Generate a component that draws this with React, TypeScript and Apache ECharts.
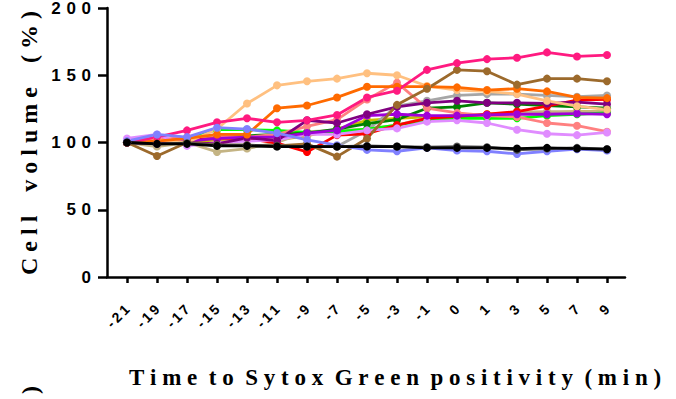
import { useEffect, useRef } from 'react';
import * as echarts from 'echarts';

const categories = ['-21', '-19', '-17', '-15', '-13', '-11', '-9', '-7', '-5', '-3', '-1', '0', '1', '3', '5', '7', '9'];
const yTicks = [0, 50, 100, 150, 200];

const olive = [100, 100, 101, 101, 102, 102, 105, 110, 116.5, 118, 119, 120, 121, 122, 122, 123, 123];
const khaki = [100, 97, 100, 93, 95.5, 100, 108, 109, 110, 113, 118.5, 119, 119.5, 122.5, 123, 123, 123];
const gray = [100, 99, 100, 98, 98, 97, 97, 97, 109, 127, 131, 135, 136, 136, 135, 134, 135];
const lime = [100, 101, 103, 109.5, 109.5, 109, 107.5, 108, 110, 113, 116.5, 118, 118, 118, 120, 121, 122];
const green = [100, 100, 101, 104, 105, 106, 107, 110, 114, 117, 125.5, 126.5, 129.5, 128.5, 127.5, 126.5, 125.5];
const red = [100, 101, 102, 103, 103, 99.5, 93, 105.5, 106.5, 113, 118, 119.5, 121, 123, 127, 131.5, 132];
const salmon = [100, 102, 104, 105, 104, 106, 112, 117, 132, 144.5, 125.5, 122, 120, 119, 114.5, 112.5, 108];
const violet = [103, 106, 97.5, 100, 101, 102, 106, 106, 109, 110.5, 115.5, 116.5, 114.5, 109.5, 106.5, 105.5, 107.5];
const darkViolet = [100, 100, 101, 103, 104, 104, 107, 109, 120, 121, 120, 120, 120.5, 121, 121, 121.5, 121];
const purple = [100, 99, 100, 99, 103.5, 101.5, 116.5, 114.5, 121, 126.5, 129.5, 131, 129.5, 129.5, 129, 130, 128.5];
const peach = [100, 102, 100, 110, 129, 142.5, 145.5, 147.5, 151.5, 150, 142, 139, 138, 136, 131, 127, 124.5];
const orange = [100, 101, 103, 106, 106, 125.5, 127.5, 133.5, 141.5, 141.5, 141.5, 141, 139, 140, 138, 133.5, 133];
const brown = [100, 90, 100, 98, 98, 97.5, 99, 89.5, 103, 128, 140, 154, 153, 143, 147.5, 147.5, 145.5];
const deepPink = [100, 104, 109, 115, 118, 115, 116.5, 120.5, 133.5, 138.5, 154, 159, 162, 163, 167, 164, 165];
const blue = [101, 106, 104, 111, 110, 107, 102, 98, 94.5, 93.5, 96, 94, 93.5, 91.5, 93.5, 95, 94];
const darkGray = [100, 99, 99.5, 98, 98, 97.5, 97, 97, 97.5, 97, 96.5, 97, 96.5, 94.5, 95.5, 96, 95];
const black = [100, 99, 99, 97.5, 97.5, 97, 97, 97, 97, 97, 96, 96, 96, 95.5, 96, 95.5, 95];

const seriesList: { name: string; color: string; data: number[] }[] = [
  { name: 'olive', color: '#C8C000', data: olive },
  { name: 'khaki', color: '#C4B484', data: khaki },
  { name: 'gray', color: '#A6A6A6', data: gray },
  { name: 'lime', color: '#00FF00', data: lime },
  { name: 'green', color: '#008000', data: green },
  { name: 'red', color: '#FF0000', data: red },
  { name: 'salmon', color: '#FF8080', data: salmon },
  { name: 'violet', color: '#E08CFF', data: violet },
  { name: 'darkViolet', color: '#A000D8', data: darkViolet },
  { name: 'purple', color: '#800080', data: purple },
  { name: 'peach', color: '#FFC080', data: peach },
  { name: 'orange', color: '#FF6A00', data: orange },
  { name: 'brown', color: '#9C6A2C', data: brown },
  { name: 'deepPink', color: '#FF1A80', data: deepPink },
  { name: 'blue', color: '#8080FF', data: blue },
  { name: 'darkGray', color: '#555555', data: darkGray },
  { name: 'black', color: '#000000', data: black },
];

const NB = '\u00A0';
function spaced(s: string, gap: string, wordGap: string): string {
  return s
    .split(' ')
    .map((w) => w.split('').join(gap))
    .join(wordGap);
}

export default function App() {
  const ref = useRef<HTMLDivElement>(null);
  useEffect(() => {
    if (!ref.current) return;
    const chart = echarts.init(ref.current, null, { renderer: 'svg' });
    const idx = categories.map((_, i) => i);
    const option: any = {
      animation: false,
      backgroundColor: '#ffffff',
      grid: { left: 107, right: 51, top: 8, bottom: 122, containLabel: false, outerBoundsMode: 'none' },
      xAxis: {
        type: 'value',
        min: -0.667,
        max: 16.6,
        splitLine: { show: false },
        axisLine: { show: true, onZero: false, lineStyle: { color: '#000', width: 2.5 } },
        axisTick: { show: true, customValues: idx, length: 6, lineStyle: { color: '#000', width: 2.5 } },
        axisLabel: {
          customValues: idx,
          rotate: 45,
          margin: 30,
          color: '#000',
          fontFamily: 'Liberation Sans',
          fontWeight: 'bold',
          fontSize: 14,
          formatter: (v: number) => spaced(categories[Math.round(v)] ?? '', '\u2009', ' '),
        },
      },
      yAxis: {
        type: 'value',
        min: 0,
        max: 200,
        interval: 50,
        splitLine: { show: false },
        axisLine: { show: true, onZero: false, lineStyle: { color: '#000', width: 2.5 } },
        axisTick: { show: true, length: 9, lineStyle: { color: '#000', width: 2.5 } },
        axisLabel: {
          margin: 16,
          color: '#000',
          fontFamily: 'Liberation Sans',
          fontWeight: 'bold',
          fontSize: 17,
          formatter: (v: number) => (yTicks.includes(v) ? spaced(String(v), '\u2004', ' ') : ''),
        },
      },
      series: seriesList.map((s) => ({
        name: s.name,
        type: 'line',
        data: s.data.map((v, i) => [i, v]),
        symbol: 'circle',
        symbolSize: 8,
        showSymbol: true,
        lineStyle: { color: s.color, width: 2.8 },
        itemStyle: { color: s.color },
        emphasis: { disabled: true },
      })),
      graphic: [
        {
          type: 'text',
          x: 29,
          y: 143,
          rotation: Math.PI / 2,
          style: {
            text: spaced('Cell volume (%)', NB, NB + NB + NB + NB),
            font: 'bold 24px "Liberation Serif"',
            fill: '#000',
            align: 'center',
            verticalAlign: 'middle',
          },
        },
        {
          type: 'text',
          x: 395,
          y: 377,
          style: {
            text: spaced('Time to Sytox Green positivity (min)', NB, NB + NB),
            font: 'bold 23px "Liberation Serif"',
            fill: '#000',
            align: 'center',
            verticalAlign: 'middle',
          },
        },
        {
          type: 'text',
          x: 30,
          y: 390,
          rotation: Math.PI / 2,
          style: {
            text: ')',
            font: 'bold 24px "Liberation Serif"',
            fill: '#000',
            align: 'center',
            verticalAlign: 'middle',
          },
        },
      ],
    };
    chart.setOption(option);
    return () => chart.dispose();
  }, []);
  return <div ref={ref} style={{ width: 676, height: 399, position: 'fixed', left: 0, top: 0 }} />;
}
